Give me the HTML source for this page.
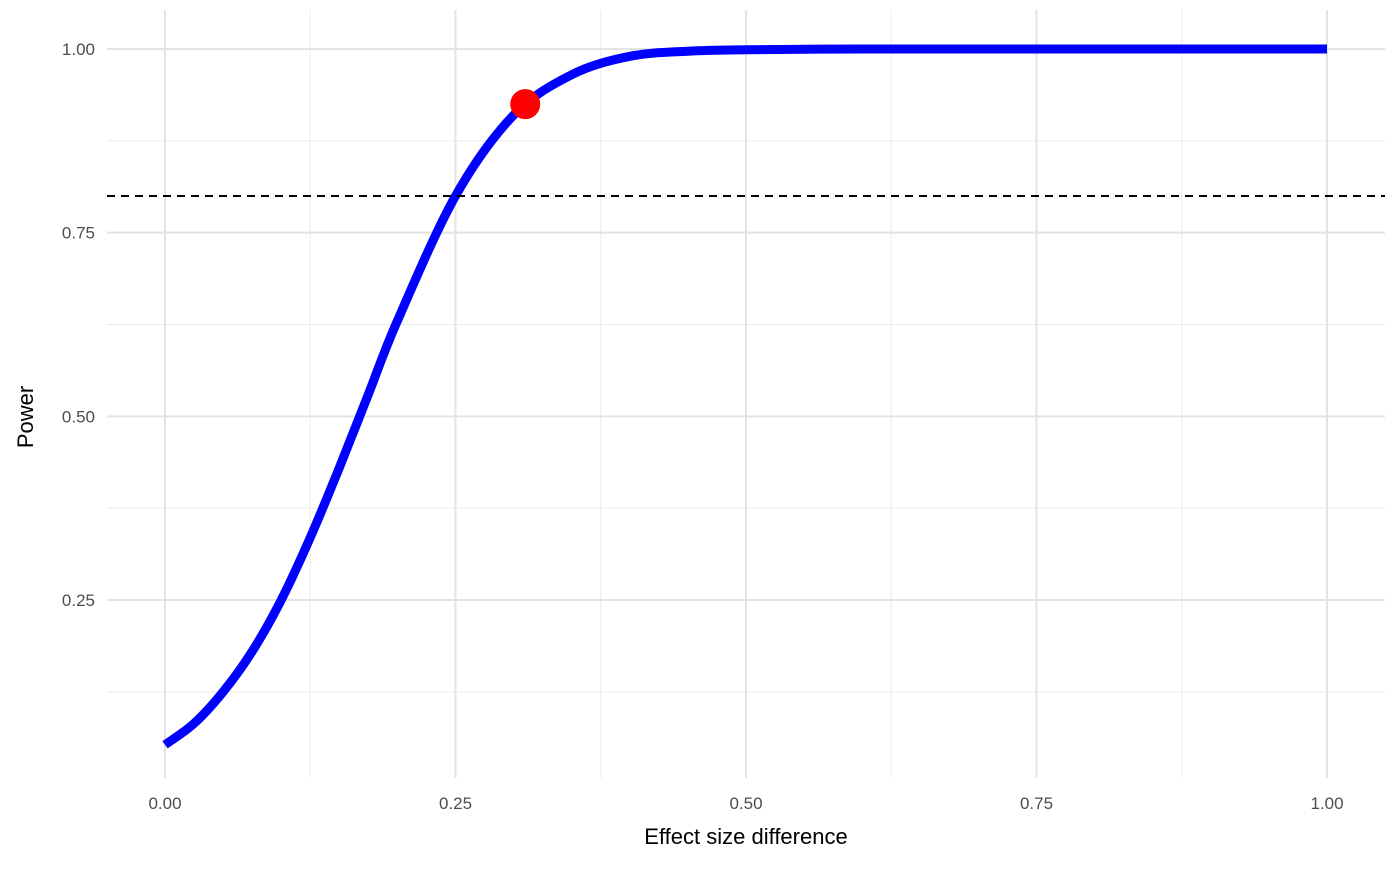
<!DOCTYPE html>
<html><head><meta charset="utf-8"><style>
body{margin:0;background:#fff;}
svg text{font-family:"Liberation Sans",Arial,sans-serif;}
</style></head><body>
<svg id="chart" width="1400" height="866" viewBox="0 0 1400 866" xmlns="http://www.w3.org/2000/svg">
<g id="grid"></g>
<g id="marks"></g>
<g id="axes"></g>
<text x="746" y="844" text-anchor="middle" font-size="22" fill="#000">Effect size difference</text>
<text transform="translate(33,417) rotate(-90)" text-anchor="middle" font-size="22" fill="#000">Power</text>
</svg>
<script>
const effectSizes=[0,0.025,0.05,0.075,0.1,0.125,0.15,0.175,0.2,0.25,0.3,0.35,0.4,0.45,0.5,0.6,0.7,0.8,0.9,1.0];
const powerValues=[0.053,0.082,0.125,0.18,0.25,0.335,0.43,0.53,0.63,0.80,0.91,0.965,0.99,0.997,0.999,1,1,1,1,1];
const xTicks=[0,0.25,0.5,0.75,1];
const xTickLabels=["0.00","0.25","0.50","0.75","1.00"];
const yTicks=[0.25,0.5,0.75,1];
const yTickLabels=["0.25","0.50","0.75","1.00"];
const targetPower=[0.8];
const pointX=[0.31];
const pointY=[0.925];
const NS="http://www.w3.org/2000/svg";
const x=v=>165+v*1162;
const y=v=>783.7-v*734.7;
const L=107,R=1385,T=10,B=778;
function mk(tag,attrs,parent){const e=document.createElementNS(NS,tag);for(const k in attrs)e.setAttribute(k,attrs[k]);parent.appendChild(e);return e;}
const grid=document.getElementById('grid'),marks=document.getElementById('marks'),axes=document.getElementById('axes');
[0.125,0.375,0.625,0.875].forEach(v=>{const l=mk('line',{x1:x(v),x2:x(v),y1:T,y2:B,stroke:'#ebebeb','stroke-width':1},grid);

});
[0.125,0.375,0.625,0.875].forEach(v=>{const l=mk('line',{x1:L,x2:R,y1:y(v),y2:y(v),stroke:'#ebebeb','stroke-width':1},grid);

});
xTicks.forEach((v,i)=>{const l=mk('line',{x1:x(v),x2:x(v),y1:T,y2:B,stroke:'#e3e3e3','stroke-width':2},grid);


const t=mk('text',{x:x(v),y:809,'text-anchor':'middle','font-size':17,fill:'#4d4d4d'},axes);t.textContent=xTickLabels[i];

});
yTicks.forEach((v,i)=>{const l=mk('line',{x1:L,x2:R,y1:y(v),y2:y(v),stroke:'#e3e3e3','stroke-width':2},grid);


const t=mk('text',{x:95,y:y(v)+6,'text-anchor':'end','font-size':17,fill:'#4d4d4d'},axes);t.textContent=yTickLabels[i];

});
const P=effectSizes.map((e,i)=>[x(e),y(powerValues[i])]);
let d='M'+P[0][0]+','+P[0][1];
for(let i=0;i<P.length-1;i++){const p0=P[Math.max(0,i-1)],p1=P[i],p2=P[i+1],p3=P[Math.min(P.length-1,i+2)];
const c1=[p1[0]+(p2[0]-p0[0])/6,p1[1]+(p2[1]-p0[1])/6],c2=[p2[0]-(p3[0]-p1[0])/6,p2[1]-(p3[1]-p1[1])/6];
d+=' C'+c1+' '+c2+' '+p2;}
const path=mk('path',{d:d,fill:'none',stroke:'#0000ff','stroke-width':9},marks);


targetPower.forEach(v=>{const l=mk('line',{x1:L,x2:R,y1:y(v),y2:y(v),stroke:'#000','stroke-width':2,'stroke-dasharray':'8,6'},marks);

});
pointX.forEach((v,i)=>{const c=mk('circle',{cx:x(v),cy:y(pointY[i]),r:15,fill:'#ff0000'},marks);

});
</script>
</body></html>
